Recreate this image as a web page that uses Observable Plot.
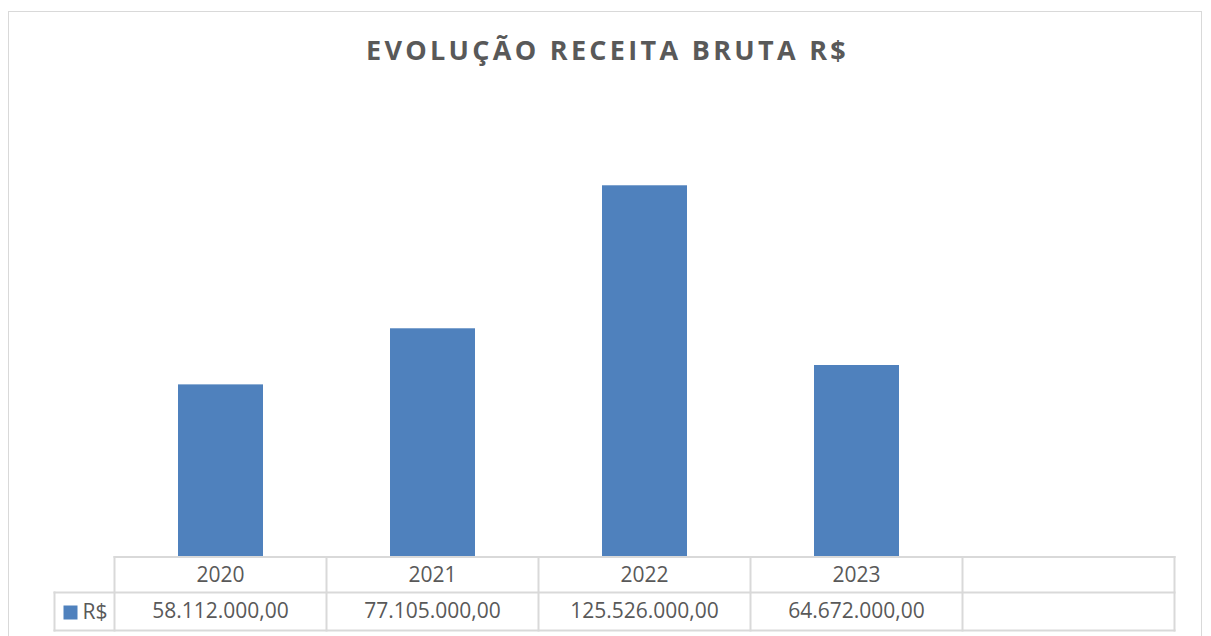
<!DOCTYPE html>
<html>
<head>
<meta charset="utf-8">
<script src="https://cdn.jsdelivr.net/npm/d3@7"></script>
<script src="https://cdn.jsdelivr.net/npm/@observablehq/plot@0.6"></script>
<style>
  html, body { margin: 0; padding: 0; background: #fff; width: 1211px; height: 636px; overflow: hidden; }
  #frame { position: absolute; left: 8px; top: 11px; width: 1194px; height: 700px; border: 1px solid #d9d9d9; box-sizing: border-box; }
  #title { position: absolute; left: 2px; top: 31px; width: 1211px; text-align: center; font-family: "Open Sans", sans-serif; font-weight: 700; font-size: 27px; letter-spacing: 3.3px; color: #595959; line-height: 38px; white-space: nowrap; }
  #chart { position: absolute; left: 0; top: 0; }
</style>
</head>
<body>
<div id="frame"></div>
<div id="chart"></div>
<div id="title">EVOLUÇÃO RECEITA BRUTA R$</div>
<script>
const years = ["2020", "2021", "2022", "2023"];
const values = [58112000, 77105000, 125526000, 64672000];
const columns = ["2020", "2021", "2022", "2023", ""];
const seriesName = "R$";
const barColor = "#4f81bd";
const gridColor = "#d9d9d9";
const textColor = "#595959";

const fmt = d3.formatLocale({decimal: ",", thousands: ".", grouping: [3], currency: ["R$", ""]}).format(",.2f");
const data = years.map((y, i) => ({year: y, value: values[i]}));

const plot = Plot.plot({
  width: 1211,
  height: 636,
  marginLeft: 113,
  marginRight: 36,
  marginTop: 113,
  marginBottom: 80,
  style: {background: "none", overflow: "visible"},
  x: {domain: columns, paddingInner: 0.6, paddingOuter: 0.3, axis: null},
  y: {domain: [0, 150e6], axis: null},
  marks: [
    Plot.barY(data, {x: "year", y: "value", fill: barColor})
  ]
});
document.getElementById("chart").appendChild(plot);

// data table under the chart, aligned with the x scale
const xs = plot.scale("x");
const ys = plot.scale("y");
const step = xs.step;
const firstLeft = xs.apply(columns[0]) - (step - xs.bandwidth) / 2;
const legW = 60;
const top0 = ys.apply(0) + 1;      // top grid line
const mid = top0 + 35.5;           // between header and values rows
const bot = top0 + 73.5;           // bottom line
const bounds = d3.range(columns.length + 1).map(i => firstLeft + i * step);
const right = bounds[bounds.length - 1];
const leftLeg = firstLeft - legW;

const svg = d3.select(plot);
const g = svg.append("g").attr("class", "data-table");
const line = (x1, y1, x2, y2) => g.append("line")
  .attr("x1", x1).attr("y1", y1).attr("x2", x2).attr("y2", y2)
  .attr("stroke", gridColor).attr("stroke-width", 2);
line(firstLeft - 1, top0, right + 1, top0);
line(leftLeg - 1, mid, right + 1, mid);
line(leftLeg - 1, bot, right + 1, bot);
bounds.forEach(b => line(b, top0 - 1, b, bot + 1));
line(leftLeg, mid - 1, leftLeg, bot + 1);

const font = "'Open Sans', sans-serif";
columns.forEach((c, k) => {
  const cx = xs.apply(c) + xs.bandwidth / 2;
  g.append("text").attr("x", cx).attr("y", top0 + 25).attr("text-anchor", "middle")
    .attr("font-family", font).attr("font-size", 21).attr("fill", textColor).text(c);
  const i = years.indexOf(c);
  g.append("text").attr("x", cx).attr("y", mid + 25.5).attr("text-anchor", "middle")
    .attr("font-family", font).attr("font-size", 21).attr("fill", textColor)
    .text(i >= 0 ? fmt(values[i]) : "");
});
g.append("rect").attr("x", leftLeg + 9).attr("y", mid + 13).attr("width", 14).attr("height", 14).attr("fill", barColor);
g.append("text").attr("x", leftLeg + 28).attr("y", mid + 26).attr("text-anchor", "start")
  .attr("font-family", font).attr("font-size", 21)
  .attr("fill", textColor).text(seriesName);
</script>
</body>
</html>
